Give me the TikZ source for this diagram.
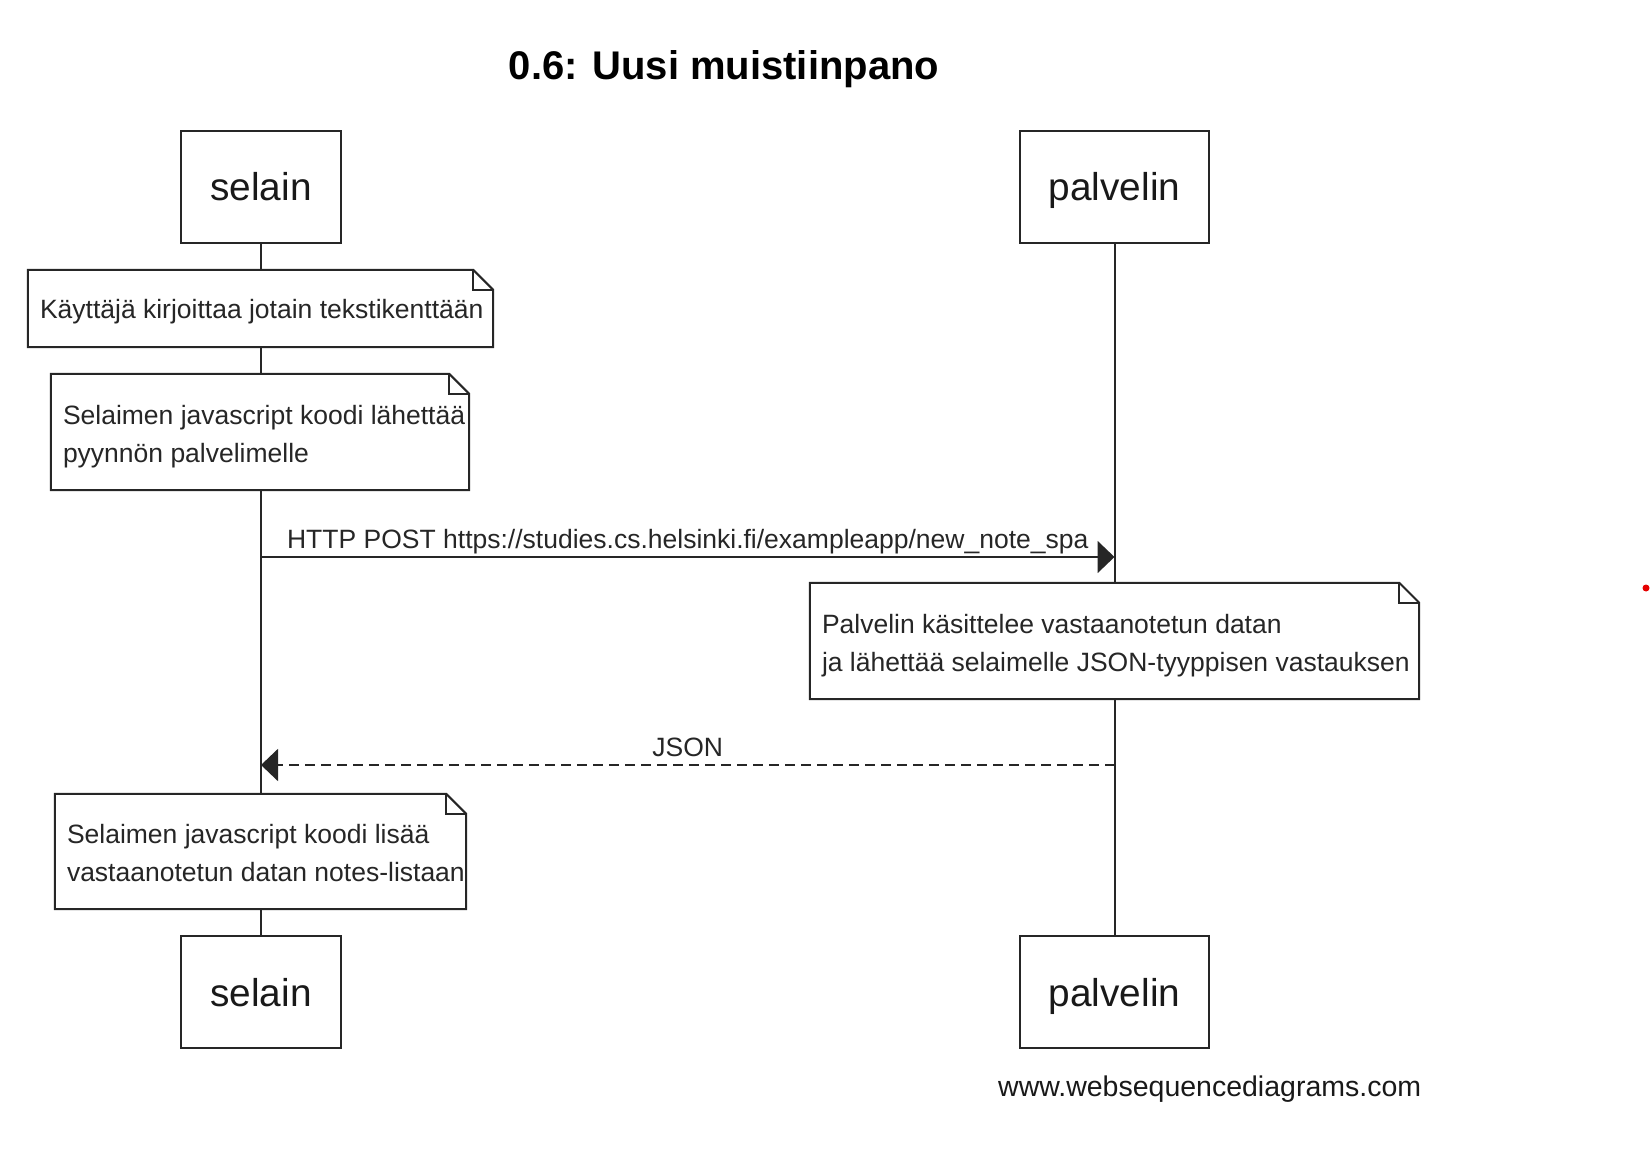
\documentclass[tikz,border=0pt]{standalone}
\usepackage{fontspec}
\setmainfont{Liberation Sans}
\usetikzlibrary{arrows.meta,calc}
% one line of note text, boxed to a fixed width; #2 and #3 are strut height and depth
\newcommand\noteln[4]{\makebox[#1][l]{\rule[-#3]{0pt}{\dimexpr#2+#3\relax}#4}}
\begin{document}
\begin{tikzpicture}[x=1pt,y=-1pt,
  ink/.style={draw=black!85, line width=2pt},
  actor/.style={ink, fill=white, minimum width=#1, minimum height=112pt, inner sep=0pt,
    text height=28pt, text depth=0pt, font=\fontsize{38.8}{46}\selectfont, text=black!90},
  notebox/.style={fill=white, minimum height=#1, inner xsep=12pt, inner ysep=0pt,
    align=left, font=\fontsize{26.5}{38}\selectfont, text=black!85},
  msg/.style={ink, -{Triangle[length=17pt,width=32pt]}},
  reply/.style={msg, dash pattern=on 10pt off 6pt},
  lbl/.style={font=\fontsize{26.5}{30}\selectfont, text=black!85, inner sep=0pt, anchor=base, yshift=9pt},
]
\useasboundingbox (0,0) rectangle (1651,1150);

% title
\node[anchor=base, font=\bfseries\fontsize{40}{48}\selectfont] (title) at (724,80) {0.6: Uusi muistiinpano};

% participants
\node[actor=160pt] (sTop) at (261,187) {selain};
\node[actor=189pt] (pTop) at (1114.5,187) {palvelin};
\node[actor=160pt] (sBot) at (261,992) {selain};
\node[actor=189pt] (pBot) at (1114.5,992) {palvelin};

% lifelines
\draw[ink] (sTop.south) -- (sBot.north);
\draw[ink] (pTop.south) -- (pBot.north);

% notes
\node[notebox=77pt]  (n1) at (260.5,308.5) {\noteln{441pt}{25.5pt}{6pt}{Käyttäjä kirjoittaa jotain tekstikenttään}};
\node[notebox=116pt] (n2) at (260,432) {\noteln{394pt}{28pt}{0pt}{Selaimen javascript koodi lähettää}\\\noteln{394pt}{0pt}{6pt}{pyynnön palvelimelle}};
\node[notebox=116pt] (n3) at (1114.5,641) {\noteln{585pt}{28pt}{0pt}{Palvelin käsittelee vastaanotetun datan}\\\noteln{585pt}{0pt}{6pt}{ja lähettää selaimelle JSON-tyyppisen vastauksen}};
\node[notebox=115pt] (n4) at (260.5,851.5) {\noteln{387pt}{28pt}{0pt}{Selaimen javascript koodi lisää}\\\noteln{387pt}{0pt}{6pt}{vastaanotetun datan notes-listaan}};

% folded-corner outlines
\foreach \n in {n1,n2,n3,n4}{
  \draw[ink, line join=miter] (\n.north west) -- ($(\n.north east)+(-20,0)$)
    -- ($(\n.north east)+(0,20)$) -- (\n.south east) -- (\n.south west) -- cycle;
  \draw[ink] ($(\n.north east)+(-20,0)$) |- ($(\n.north east)+(0,20)$);
}

% messages
\coordinate (reqy) at (0,557);
\coordinate (resy) at (0,765);
\draw[msg] (sTop |- reqy) -- node[lbl] (reqlbl) {HTTP POST https://studies.cs.helsinki.fi/exampleapp/new\_note\_spa} (pTop |- reqy);
\draw[reply] (pTop |- resy) -- node[lbl] (reslbl) {JSON} (sTop |- resy);

% footer
\node[anchor=base west, inner sep=0pt, font=\fontsize{28.5}{32}\selectfont, text=black!90] (footer) at (998,1096) {www.websequencediagrams.com};

% stray mark
\fill[red!90!black] (1646,588) circle (3.5pt);
\end{tikzpicture}
\end{document}
